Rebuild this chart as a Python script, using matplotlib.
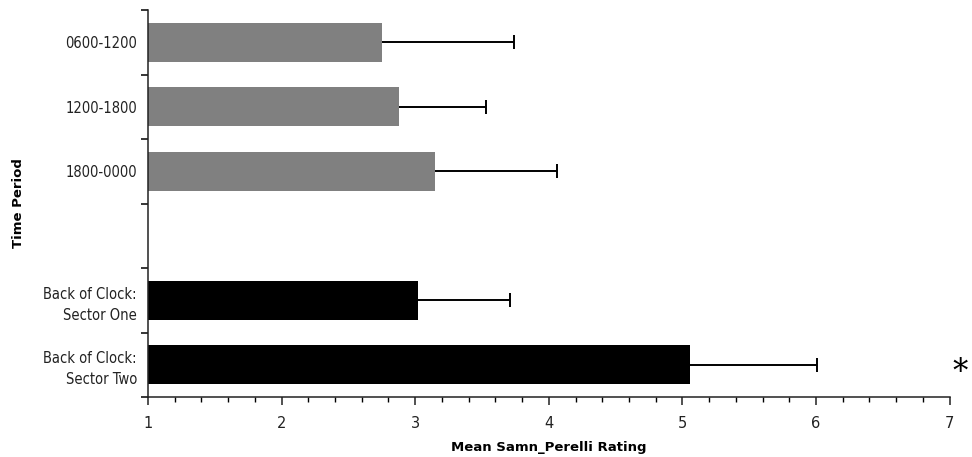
import matplotlib
matplotlib.use("Agg")
import matplotlib.pyplot as plt
from matplotlib.ticker import MultipleLocator, FixedLocator, NullFormatter
from matplotlib import font_manager
import numpy as np

categories = ["0600-1200", "1200-1800", "1800-0000", "",
              "Back of Clock:\nSector One", "Back of Clock:\nSector Two"]
means = [2.75, 2.88, 3.15, None, 3.02, 5.06]
errors = [0.99, 0.65, 0.91, None, 0.69, 0.95]
colors = ["#808080", "#808080", "#808080", "none", "#000000", "#000000"]

names = {f.name for f in font_manager.fontManager.ttflist}
narrow = [n for n in ["Liberation Sans Narrow", "DejaVu Sans Condensed"] if n in names]

fig = plt.figure(figsize=(9.72, 4.57), dpi=100)
ax = fig.add_axes([0.1523, 0.1313, 0.8246, 0.8467])

ypos = np.arange(len(categories))
for y, m, e, c in zip(ypos, means, errors, colors):
    if m is None:
        continue
    ax.barh(y, m - 1, left=1, height=0.6, color=c, edgecolor="none", zorder=2)
    ax.hlines(y, m, m + e, color="black", linewidth=1.4, zorder=3)
    ax.plot([m + e], [y], marker="|", markersize=9.5, markeredgewidth=1.4,
            color="black", zorder=3)

ax.set_xlim(1, 7)
ax.set_ylim(len(categories) - 0.5, -0.5)
ax.xaxis.set_major_locator(MultipleLocator(1))
ax.xaxis.set_minor_locator(MultipleLocator(0.2))
ax.yaxis.set_major_locator(FixedLocator(np.arange(-0.5, len(categories), 1)))
ax.yaxis.set_major_formatter(NullFormatter())
ax.yaxis.set_minor_locator(FixedLocator(ypos))
ax.set_yticklabels(categories, minor=True)

for s in ["top", "right"]:
    ax.spines[s].set_visible(False)
for s in ["left", "bottom"]:
    ax.spines[s].set_linewidth(1.1)
    ax.spines[s].set_color("#222222")

ax.tick_params(axis="x", which="major", length=6, width=1.1, direction="out",
               labelsize=10.5, pad=8, colors="#222222")
ax.tick_params(axis="x", which="minor", length=3.5, width=1.0, direction="out")
ax.tick_params(axis="y", which="major", length=5, width=1.1, direction="out")
ax.tick_params(axis="y", which="minor", length=0, pad=8)
for lab in ax.get_yticklabels(minor=True):
    lab.set_fontfamily(narrow + ["DejaVu Sans"])
    if not narrow:
        lab.set_fontstretch("condensed")
    lab.set_fontsize(10.5)
    lab.set_color("#222222")
    lab.set_linespacing(1.5)

ax.set_xlabel("Mean Samn_Perelli Rating", fontsize=9.5, fontweight="bold", labelpad=7)
ax.set_ylabel("Time Period", fontsize=9.5, fontweight="bold")
ax.yaxis.set_label_coords(-0.1535, 0.5)

ax.text(7.08, 5.12, "*", fontsize=22, ha="center", va="center", clip_on=False,
        fontfamily="DejaVu Serif")

fig.savefig("out.png", dpi=100)
